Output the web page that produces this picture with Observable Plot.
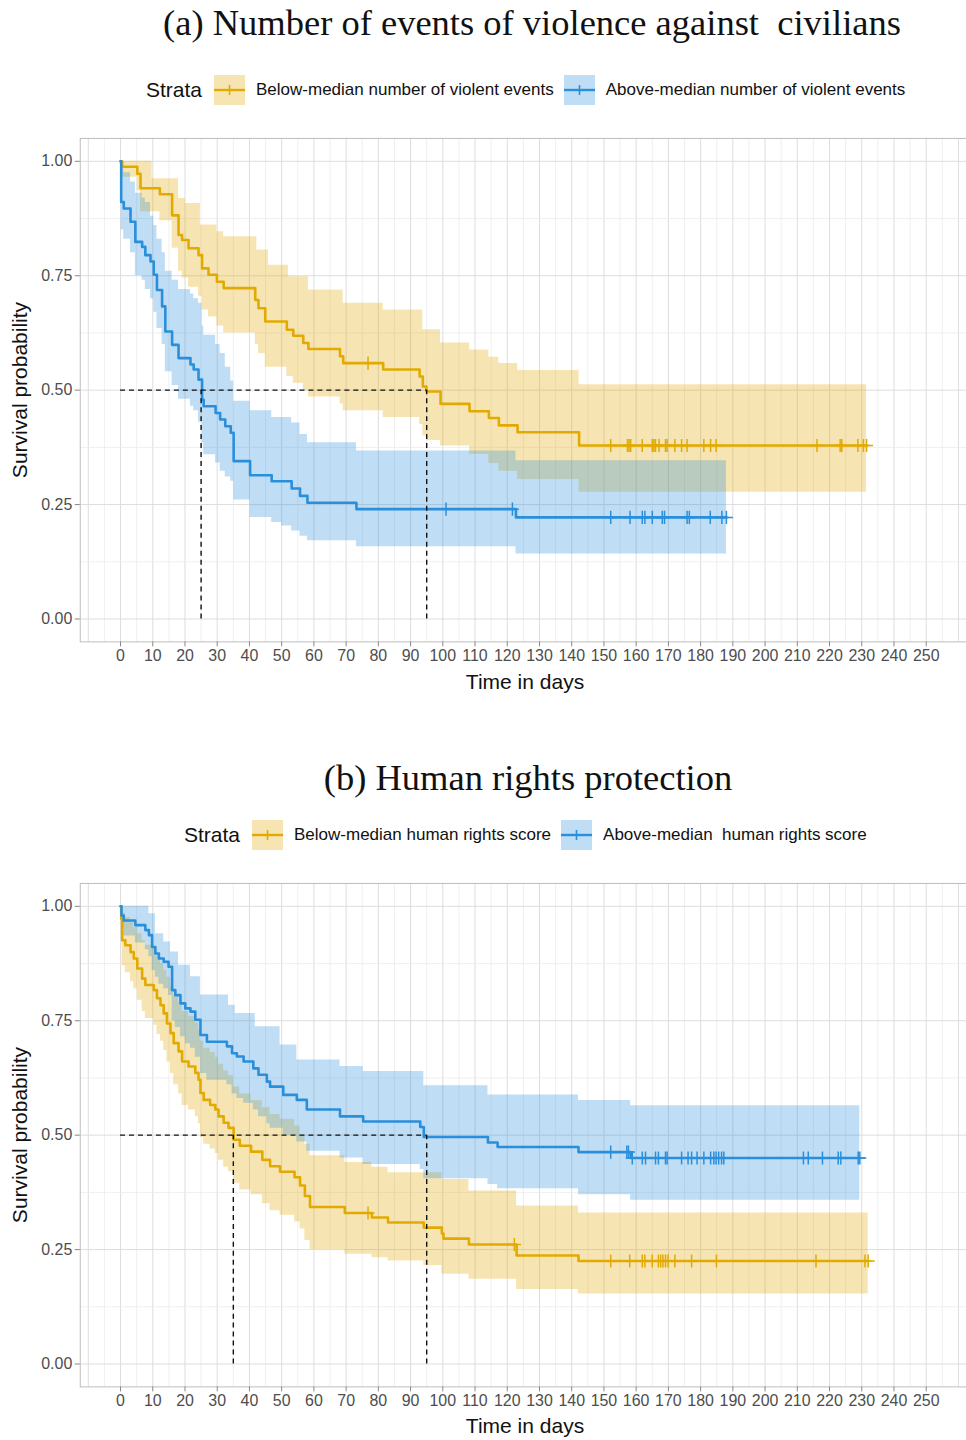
<!DOCTYPE html>
<html><head><meta charset="utf-8">
<script src="https://cdn.jsdelivr.net/npm/d3@7"></script>
<script src="https://cdn.jsdelivr.net/npm/@observablehq/plot@0.6"></script>
<style>
body{margin:0;background:#fff;}
#root{position:relative;width:966px;height:1440px;overflow:hidden;font-family:"Liberation Sans",Arial,sans-serif;background:#fff;}
.title{position:absolute;transform:translate(-50%,-50%);font-family:"Liberation Serif","DejaVu Serif",serif;font-size:36.5px;white-space:pre;color:#111;}
.legend{position:absolute;display:flex;align-items:center;transform:translateY(-50%);white-space:pre;color:#111;}
.legend .strata{font-size:21px;margin-right:12px;}
.legend .lab{font-size:17px;margin:0 10px 0 11px;}
.axtitle{position:absolute;transform:translate(-50%,-50%);font-size:21px;color:#111;white-space:pre;}
.ytitle{position:absolute;transform:translate(-50%,-50%) rotate(-90deg);font-size:21px;color:#111;white-space:pre;}
.plot{position:absolute;left:0;}
</style></head>
<body><div id="root"></div>
<script>
// ---------- DATA ----------
const orangeColor = "#E2AA00";
const blueColor = "#2A8FDB";
const xTicks = d3.range(0, 251, 10);
const yTicks = [0, 0.25, 0.5, 0.75, 1];

// Panel (a): rows [time, survival, lower, upper]
const aBelowTime  = [0,0.5,5.2,6.2,9.8,12.2,16.0,18.0,19.1,20.1,21.1,24.2,24.8,25.3,27.3,29.9,32.0,41.8,42.3,42.8,44.9,45.9,51.6,52.1,53.6,56.7,58.3,68.1,69.1,81.5,92.8,93.8,94.9,99.3,108.3,114.3,117.4,123.2,142.3,231.5];
const aBelowSurv  = [1,0.988,0.973,0.941,0.941,0.928,0.882,0.839,0.828,0.828,0.810,0.795,0.795,0.766,0.752,0.737,0.723,0.697,0.697,0.679,0.650,0.650,0.632,0.632,0.619,0.603,0.590,0.574,0.559,0.545,0.530,0.508,0.497,0.470,0.454,0.439,0.423,0.408,0.379,0.379];
const aBelowLower = [1,0.965,0.935,0.89,0.89,0.87,0.81,0.76,0.745,0.745,0.725,0.705,0.705,0.675,0.66,0.64,0.625,0.60,0.60,0.58,0.55,0.55,0.53,0.53,0.515,0.50,0.485,0.47,0.455,0.44,0.425,0.40,0.39,0.378,0.36,0.34,0.323,0.305,0.277,0.277];
const aBelowUpper = [1,1,1,1,0.962,0.962,0.962,0.919,0.919,0.908,0.908,0.908,0.861,0.861,0.861,0.846,0.835,0.835,0.806,0.806,0.806,0.773,0.773,0.748,0.748,0.748,0.719,0.719,0.69,0.675,0.675,0.632,0.632,0.603,0.588,0.572,0.558,0.543,0.512,0.512];
const aBelowCensor = [76.8,152.1,157.3,157.8,158.3,161.9,165.0,165.5,166.0,167.1,169.1,169.6,172.0,174.1,175.8,181.0,183.1,184.8,216.1,223.3,223.8,228.8,230.5,231.5];

const aAboveTime  = [0,0.2,1.0,3.1,4.6,6.7,7.7,9.3,10.3,11.3,12.9,13.9,16.0,18.0,21.7,22.7,24.2,25.3,25.8,29.5,30.9,32.5,34.2,35.1,40.2,46.9,50.0,53.1,55.7,58.0,73.2,122.7,188];
const aAboveSurv  = [1,0.911,0.897,0.868,0.824,0.813,0.795,0.781,0.752,0.719,0.683,0.628,0.599,0.570,0.556,0.545,0.523,0.479,0.465,0.450,0.436,0.421,0.407,0.345,0.314,0.301,0.301,0.285,0.269,0.254,0.240,0.222,0.222];
const aAboveLower = [1,0.85,0.83,0.80,0.75,0.74,0.72,0.70,0.67,0.635,0.60,0.54,0.51,0.48,0.465,0.455,0.43,0.385,0.359,0.341,0.323,0.31,0.301,0.26,0.222,0.211,0.203,0.192,0.181,0.171,0.158,0.142,0.142];
const aAboveUpper = [1,0.99,0.975,0.955,0.93,0.92,0.91,0.88,0.86,0.83,0.80,0.76,0.74,0.72,0.71,0.70,0.69,0.64,0.62,0.60,0.58,0.55,0.52,0.476,0.455,0.44,0.44,0.428,0.403,0.385,0.367,0.346,0.346];
const aAboveCensor = [101,121.6,152.1,158.1,161.9,162.7,165.0,168.1,168.8,175.8,176.5,183.0,186.6,188];
const aMedians = [25, 95];

// Panel (b)
const bBelowTime  = [0,0.2,0.5,1.5,3.1,4.1,5.2,6.7,7.7,10.3,11.3,12.4,13.4,14.4,15.5,16.5,18.0,19.1,21.1,23.2,24.2,24.8,25.8,27.8,29.4,30.4,32.0,33.5,35.1,37.0,40.5,44.0,46.4,49.5,54.0,55.7,57.2,58.8,69.6,78.0,83.0,94.1,99.7,100.2,108.1,122.9,142.1,232];
const bBelowSurv  = [1,0.973,0.926,0.915,0.900,0.886,0.864,0.842,0.828,0.817,0.799,0.784,0.766,0.744,0.723,0.701,0.683,0.661,0.650,0.636,0.621,0.592,0.577,0.566,0.556,0.541,0.527,0.516,0.490,0.477,0.464,0.446,0.432,0.420,0.408,0.390,0.367,0.343,0.330,0.320,0.309,0.298,0.285,0.274,0.261,0.237,0.225,0.225];
const bBelowLower = [1,0.94,0.87,0.855,0.835,0.82,0.795,0.77,0.755,0.74,0.72,0.705,0.685,0.66,0.635,0.61,0.59,0.565,0.555,0.54,0.525,0.495,0.48,0.47,0.46,0.445,0.43,0.42,0.395,0.38,0.37,0.35,0.335,0.325,0.31,0.295,0.27,0.25,0.24,0.232,0.225,0.215,0.196,0.196,0.185,0.163,0.153,0.153];
const bBelowUpper = [1,1,0.985,0.975,0.965,0.955,0.94,0.925,0.915,0.905,0.89,0.875,0.86,0.845,0.825,0.805,0.79,0.77,0.76,0.745,0.73,0.705,0.69,0.68,0.67,0.655,0.64,0.63,0.605,0.59,0.575,0.56,0.545,0.535,0.52,0.50,0.48,0.455,0.44,0.43,0.418,0.418,0.403,0.403,0.378,0.345,0.330,0.330];
const bBelowCensor = [76.8,122.2,152.1,158.0,161.9,162.7,165.0,166.9,167.6,168.3,169.1,169.9,172.0,177.2,184.9,215.8,231.0,232];

const bAboveTime  = [0,0.3,1.0,4.6,7.7,8.8,9.8,10.8,11.9,13.4,14.9,15.5,16.0,17.0,18.0,18.6,20.1,21.7,23.2,24.8,26.8,33.0,33.5,34.6,35.6,36.1,38.2,41.2,41.8,42.8,45.4,46.4,49.5,50.5,54.7,57.8,68.1,75.3,93.0,94.1,114.0,117.0,142.1,158.3,229.4];
const bAboveSurv  = [1,0.980,0.969,0.959,0.948,0.937,0.911,0.897,0.886,0.879,0.868,0.868,0.817,0.806,0.806,0.788,0.777,0.770,0.752,0.719,0.704,0.694,0.694,0.679,0.679,0.672,0.661,0.646,0.646,0.632,0.617,0.606,0.606,0.588,0.577,0.556,0.541,0.530,0.518,0.496,0.484,0.474,0.463,0.450,0.450];
const bAboveLower = [1,0.95,0.935,0.92,0.905,0.89,0.86,0.845,0.83,0.82,0.805,0.805,0.75,0.735,0.735,0.715,0.70,0.69,0.67,0.635,0.62,0.61,0.61,0.59,0.59,0.58,0.57,0.555,0.555,0.54,0.525,0.515,0.515,0.50,0.485,0.465,0.45,0.436,0.425,0.405,0.392,0.383,0.370,0.358,0.358];
const bAboveUpper = [1,1,1,1,1,0.984,0.984,0.94,0.94,0.922,0.922,0.90,0.90,0.90,0.871,0.871,0.871,0.846,0.846,0.806,0.806,0.806,0.784,0.784,0.766,0.766,0.766,0.766,0.737,0.737,0.737,0.737,0.697,0.697,0.664,0.664,0.650,0.639,0.639,0.608,0.588,0.588,0.576,0.564,0.564];
const bAboveCensor = [152.1,157.1,157.6,158.8,161.9,162.9,166.0,166.9,169.1,169.6,174.1,176.1,177.2,178.9,181.0,183.1,184.1,184.8,185.6,186.5,187.2,211.9,213.4,217.8,222.7,223.5,228.9,229.4];
const bMedians = [35, 95];

const panels = [
  {top:120, title:"(a) Number of events of violence against  civilians", titleX:532, titleY:22,
   legendX:146, legendY:90, labels:["Below-median number of violent events","Above-median number of violent events"],
   strata:[[aBelowTime,aBelowSurv,aBelowLower,aBelowUpper,aBelowCensor,orangeColor],[aAboveTime,aAboveSurv,aAboveLower,aAboveUpper,aAboveCensor,blueColor]],
   medians:aMedians, xTitleY:682, yTitleY:390},
  {top:865, title:"(b) Human rights protection", titleX:528, titleY:777,
   legendX:184, legendY:835, labels:["Below-median human rights score","Above-median  human rights score"],
   strata:[[bBelowTime,bBelowSurv,bBelowLower,bBelowUpper,bBelowCensor,orangeColor],[bAboveTime,bAboveSurv,bAboveLower,bAboveUpper,bAboveCensor,blueColor]],
   medians:bMedians, xTitleY:1426, yTitleY:1135}
];

const root = document.getElementById("root");
function keySvg(color){
  return `<svg width="31" height="30" style="display:block"><rect x="0" y="0" width="31" height="30" fill="${color}" fill-opacity="0.3"/><line x1="0" x2="31" y1="15" y2="15" stroke="${color}" stroke-width="2.4"/><line x1="15.5" x2="15.5" y1="10" y2="20" stroke="${color}" stroke-width="1.6"/></svg>`;
}

for (const p of panels) {
  const t = document.createElement("div");
  t.className = "title"; t.textContent = p.title;
  t.style.left = p.titleX + "px"; t.style.top = p.titleY + "px";
  root.appendChild(t);

  const lg = document.createElement("div");
  lg.className = "legend"; lg.style.left = p.legendX + "px"; lg.style.top = p.legendY + "px";
  lg.innerHTML = `<span class="strata">Strata</span>${keySvg(orangeColor)}<span class="lab">${p.labels[0]}</span>${keySvg(blueColor)}<span class="lab">${p.labels[1]}</span>`;
  root.appendChild(lg);

  const marks = [];
  marks.push(Plot.ruleX(d3.range(-5, 261, 10), {stroke:"#ebebeb", strokeWidth:0.8}));
  marks.push(Plot.ruleX(d3.range(-10, 261, 10), {stroke:"#dddddd", strokeWidth:1}));
  marks.push(Plot.ruleY([0.125,0.375,0.625,0.875], {stroke:"#ebebeb", strokeWidth:0.8}));
  marks.push(Plot.ruleY(yTicks, {stroke:"#dddddd", strokeWidth:1}));
  const rowsList = p.strata.map(([T,S,L,U,C,col]) => ({rows: T.map((tt,i)=>({t:tt,s:S[i],lo:L[i],hi:U[i]})), C, col}));
  for (const {rows,col} of rowsList) {
    marks.push(Plot.areaY(rows, {x:"t", y1:"lo", y2:"hi", curve:"step-after", fill:col, fillOpacity:0.3}));
  }
  for (const {rows,C,col} of rowsList) {
    marks.push(Plot.line(rows, {x:"t", y:"s", curve:"step-after", stroke:col, strokeWidth:2.6}));
    const times = rows.map(r=>r.t);
    const cens = C.map(c => { const i = Math.max(0, d3.bisectRight(times, c) - 1); return {t:c, s:rows[i].s}; });
    marks.push(Plot.dot(cens, {x:"t", y:"s", symbol:"plus", r:4.3, stroke:col, strokeWidth:1.5}));
  }
  marks.push(Plot.ruleY([0.5], {x1:0, x2:d3.max(p.medians), stroke:"#111", strokeWidth:1.4, strokeDasharray:"5,4"}));
  marks.push(Plot.ruleX(p.medians, {y1:0, y2:0.5, stroke:"#111", strokeWidth:1.4, strokeDasharray:"5,4"}));
  marks.push(Plot.frame({stroke:"#bdbdbd", strokeWidth:1}));
  marks.push(Plot.axisX(xTicks, {tickSize:5, tickPadding:3, stroke:"#888", fill:"#4d4d4d", fontSize:16, label:null}));
  marks.push(Plot.axisY(yTicks, {tickSize:5, tickPadding:3, stroke:"#888", fill:"#4d4d4d", fontSize:16, label:null, tickFormat:d3.format(".2f")}));

  const svg = Plot.plot({
    width: 969, height: 585,
    marginLeft: 80, marginRight: 0, marginTop: 18, marginBottom: 62,
    x: {domain: [-12.5, 262.5]},
    y: {domain: [-0.05, 1.05]},
    style: {fontFamily: '"Liberation Sans", Arial, sans-serif', fontSize: "16px", background: "transparent"},
    marks
  });
  svg.classList.add("plot");
  svg.style.top = p.top + "px";
  root.appendChild(svg);

  const xt = document.createElement("div");
  xt.className = "axtitle"; xt.textContent = "Time in days";
  xt.style.left = "525px"; xt.style.top = p.xTitleY + "px";
  root.appendChild(xt);
  const yt = document.createElement("div");
  yt.className = "ytitle"; yt.textContent = "Survival probability";
  yt.style.left = "20px"; yt.style.top = p.yTitleY + "px";
  root.appendChild(yt);
}
</script>
</body></html>
